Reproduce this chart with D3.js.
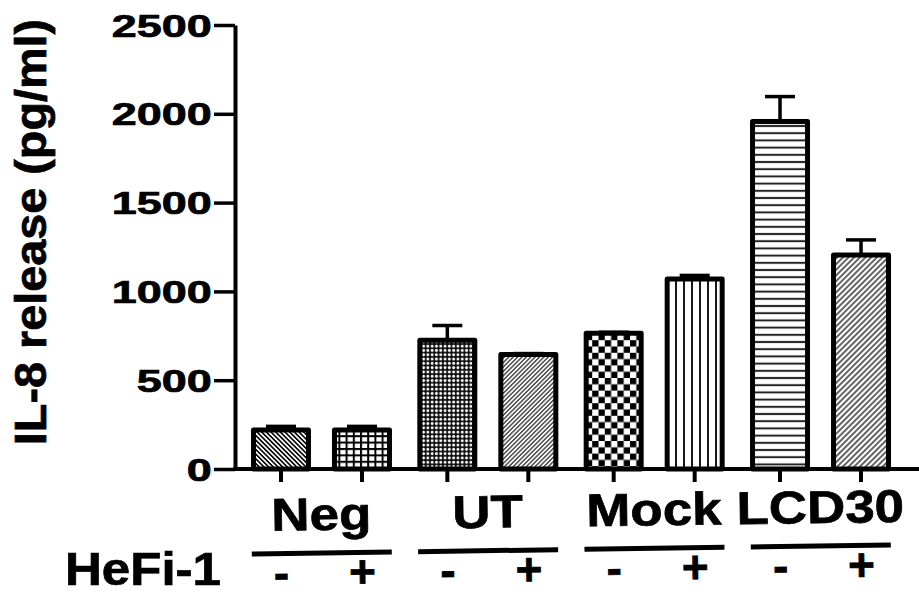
<!DOCTYPE html>
<html>
<head>
<meta charset="utf-8">
<script src="https://cdn.jsdelivr.net/npm/d3@7"></script>
<style>
  body { margin: 0; background: #fff; }
  svg { display: block; }
  text { font-family: "Liberation Sans", Arial, sans-serif; font-weight: bold; fill: #000;
         stroke: #000; stroke-width: 0.7px; }
</style>
</head>
<body>
<svg id="chart" width="919" height="598"></svg>
<script>
// data
const groups = ["Neg", "UT", "Mock", "LCD30"];
const treatments = ["-", "+"];
const means = [220, 220, 725, 645, 765, 1070, 1957, 1205];
const errors = [20, 20, 83, 5, 5, 20, 140, 85];
const yTicks = [0, 500, 1000, 1500, 2000, 2500];
const fills = ["diagDown", "grid", "dots", "diagUpFine", "checker", "vertical", "horizontal", "diagUp"];

const bars = means.map((m, i) => ({
  group: groups[Math.floor(i / 2)],
  treat: treatments[i % 2],
  mean: m,
  err: errors[i],
  fill: fills[i]
}));

const svg = d3.select("#chart");

const y = d3.scaleLinear().domain([0, 2500]).range([469, 25]);
const x0 = d3.scaleBand().domain(groups).range([238.3, 903.7]);
const x1 = d3.scalePoint().domain(treatments).range([-40.5, 40.5]);
const cx = d => x0(d.group) + x0.bandwidth() / 2 + x1(d.treat);
const barW = 55;

// hatch patterns
const defs = svg.append("defs");

function linePattern(id, size, angle, width, color) {
  const p = defs.append("pattern")
    .attr("id", id)
    .attr("patternUnits", "userSpaceOnUse")
    .attr("width", size)
    .attr("height", size)
    .attr("patternTransform", "rotate(" + angle + ")");
  p.append("rect").attr("width", size).attr("height", size).attr("fill", "#fff");
  p.append("line")
    .attr("x1", size / 2).attr("x2", size / 2)
    .attr("y1", 0).attr("y2", size)
    .attr("stroke", color).attr("stroke-width", width);
}

linePattern("diagDown", 3.3, -45, 1.6, "#000");
linePattern("diagUpFine", 3.1, 45, 1.2, "#222");
linePattern("diagUp", 4, 45, 1.3, "#111");
linePattern("vertical", 8, 0, 1.8, "#000");
linePattern("horizontal", 7.2, 90, 2, "#222");

const grid = defs.append("pattern")
  .attr("id", "grid")
  .attr("patternUnits", "userSpaceOnUse")
  .attr("width", 7.2).attr("height", 6.4);
grid.append("rect").attr("width", 7.2).attr("height", 6.4).attr("fill", "#fff");
grid.append("line").attr("x1", 1).attr("x2", 1).attr("y1", 0).attr("y2", 6.4)
  .attr("stroke", "#000").attr("stroke-width", 2);
grid.append("line").attr("x1", 0).attr("x2", 7.2).attr("y1", 1).attr("y2", 1)
  .attr("stroke", "#000").attr("stroke-width", 2);

const dots = defs.append("pattern")
  .attr("id", "dots")
  .attr("patternUnits", "userSpaceOnUse")
  .attr("width", 4.3).attr("height", 4.3);
dots.append("rect").attr("width", 4.3).attr("height", 4.3).attr("fill", "#111");
dots.append("circle").attr("cx", 2.15).attr("cy", 2.15).attr("r", 1.45).attr("fill", "#fff");

const checker = defs.append("pattern")
  .attr("id", "checker")
  .attr("patternUnits", "userSpaceOnUse")
  .attr("width", 12.6).attr("height", 12.6);
checker.append("rect").attr("width", 12.6).attr("height", 12.6).attr("fill", "#fff");
checker.append("rect").attr("width", 6.3).attr("height", 6.3).attr("fill", "#000");
checker.append("rect").attr("x", 6.3).attr("y", 6.3).attr("width", 6.3).attr("height", 6.3).attr("fill", "#000");

// error bars (upper only)
const eb = svg.append("g").attr("stroke", "#000").attr("stroke-width", 3.5);
eb.selectAll(".stem")
  .data(bars)
  .join("line")
  .attr("x1", cx).attr("x2", cx)
  .attr("y1", d => y(d.mean)).attr("y2", d => y(d.mean + d.err));
eb.selectAll(".cap")
  .data(bars)
  .join("line")
  .attr("x1", d => cx(d) - 15).attr("x2", d => cx(d) + 15)
  .attr("y1", d => y(d.mean + d.err)).attr("y2", d => y(d.mean + d.err));

// bars
svg.append("g")
  .selectAll("rect")
  .data(bars)
  .join("rect")
  .attr("x", d => cx(d) - barW / 2)
  .attr("width", barW)
  .attr("y", d => y(d.mean))
  .attr("height", d => y(0) - y(d.mean))
  .attr("fill", d => "url(#" + d.fill + ")")
  .attr("stroke", "#000")
  .attr("stroke-width", 5)
  .attr("stroke-linejoin", "round");

// x axis line and ticks
svg.append("line")
  .attr("x1", 233).attr("x2", 919)
  .attr("y1", y(0)).attr("y2", y(0))
  .attr("stroke", "#000").attr("stroke-width", 4);
svg.append("g")
  .selectAll("line")
  .data(bars)
  .join("line")
  .attr("x1", cx).attr("x2", cx)
  .attr("y1", y(0)).attr("y2", y(0) + 13)
  .attr("stroke", "#000").attr("stroke-width", 4);

// y axis
const yAxis = svg.append("g")
  .attr("transform", "translate(235,0)")
  .call(d3.axisLeft(y).tickValues(yTicks).tickFormat(d3.format("d"))
    .tickSize(21).tickSizeOuter(0).tickPadding(0));
yAxis.select(".domain").attr("stroke-width", 4);
yAxis.selectAll(".tick line").attr("stroke-width", 3.5);
yAxis.selectAll(".tick text")
  .attr("x", -16)
  .attr("dy", "0.36em")
  .attr("transform", "scale(1.45,1)")
  .style("font-size", "31px");

// y title
svg.append("text")
  .attr("transform", "translate(46,232) rotate(-90) scale(1.04,1)")
  .attr("text-anchor", "middle")
  .style("font-size", "45px")
  .text("IL-8 release (pg/ml)");

// group annotations below the axis (slightly tilted in the original)
const ann = svg.append("g").attr("transform", "rotate(-0.8,320,530)");

ann.selectAll(".grp")
  .data(groups)
  .join("text")
  .attr("transform", g => "translate(" + (x0(g) + x0.bandwidth() / 2) + ",530) scale(1.15,1)")
  .attr("text-anchor", "middle")
  .style("font-size", "46px")
  .text(g => g);

ann.selectAll(".under")
  .data(groups)
  .join("line")
  .attr("x1", g => x0(g) + x0.bandwidth() / 2 - 70)
  .attr("x2", g => x0(g) + x0.bandwidth() / 2 + 70)
  .attr("y1", 553).attr("y2", 553)
  .attr("stroke", "#000").attr("stroke-width", 5);

ann.selectAll(".sign")
  .data(bars)
  .join("text")
  .attr("x", cx)
  .attr("y", 588)
  .attr("text-anchor", "middle")
  .style("font-size", "46px")
  .text(d => d.treat);

svg.append("text")
  .attr("transform", "translate(65,585) scale(1.11,1)")
  .style("font-size", "46px")
  .text("HeFi-1");
</script>
</body>
</html>
